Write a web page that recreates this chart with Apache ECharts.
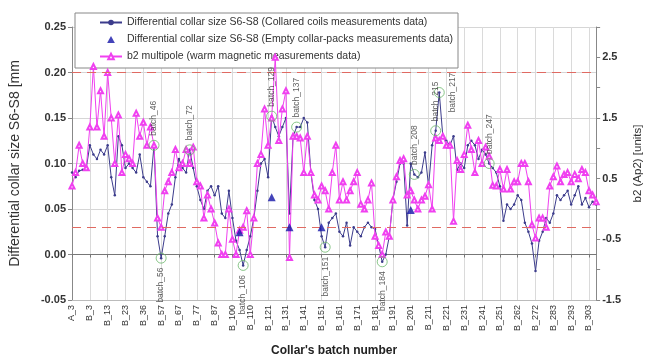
<!DOCTYPE html>
<html><head><meta charset="utf-8">
<script src="https://cdn.jsdelivr.net/npm/echarts@6/dist/echarts.min.js"></script>
<style>html,body{margin:0;padding:0;background:#fff}#c{width:652px;height:362px}</style>
</head><body><div id="c"></div>
<script>
const tickLabels = ['A_3','B_3','B_13','B_23','B_36','B_57','B_67','B_77','B_87','B_100','B_110','B_121','B_131','B_141','B_151','B_161','B_171','B_181','B_191','B_201','B_211','B_221','B_231','B_241','B_251','B_262','B_272','B_283','B_293','B_303'];

// Differential collar size S6-S8, collared coils [mm] (left axis)
const collaredCoils = [
0.09,0.085,0.092,0.093,0.095,0.12,0.11,0.105,0.115,0.11,
0.12,0.085,0.065,0.13,0.12,0.095,0.1,0.095,0.09,0.11,
0.085,0.08,0.075,0.12,0.02,-0.004,0.02,0.045,0.055,0.085,
0.105,0.095,0.09,0.115,0.095,0.075,0.06,0.05,0.07,0.075,
0.065,0.075,0.045,0.04,0.07,0.04,0.015,0.005,-0.012,0.005,
0.02,0.04,0.07,0.1,0.105,0.085,0.152,0.14,0.13,0.14,
0.15,0.045,0.13,0.14,0.14,0.15,0.145,0.09,0.06,0.05,
0.02,0.008,0.035,0.04,0.045,0.025,0.02,0.035,0.01,0.03,
0.025,0.02,0.03,0.035,0.03,0.028,0.01,-0.008,0.0,0.02,
0.06,0.08,0.1,0.1,0.032,0.1,0.088,0.085,0.09,0.112,
0.075,0.12,0.136,0.178,0.13,0.125,0.12,0.13,0.093,0.1,
0.095,0.12,0.125,0.12,0.105,0.115,0.11,0.1,0.095,0.09,
0.075,0.037,0.055,0.05,0.055,0.065,0.06,0.035,0.025,0.012,
-0.018,0.015,0.025,0.04,0.035,0.045,0.065,0.06,0.065,0.07,
0.055,0.065,0.075,0.055,0.062,0.052,0.058,0.055
];

// b2 multipole [units] (right axis)
const b2Multipole = [
0.38,0.6,1.05,0.75,0.68,1.35,2.35,1.35,1.95,1.2,
2.25,1.5,0.75,1.55,0.6,0.9,0.83,0.75,1.58,1.2,
1.43,1.05,1.35,1.05,-0.15,-0.3,0.3,0.45,0.6,0.98,
0.68,0.75,0.98,0.75,1.02,0.45,0.38,-0.15,0.23,0.0,
-0.23,-0.56,-0.75,-0.75,0.0,-0.5,-0.75,-0.35,-0.3,-0.03,
-0.75,-0.15,0.75,0.9,1.65,1.05,1.5,2.5,1.13,1.65,
1.95,-0.8,1.2,1.2,1.17,0.6,1.2,0.6,0.23,0.15,
0.38,0.3,0.0,0.6,1.05,0.15,0.45,0.15,0.3,0.45,
0.6,0.08,0.0,0.15,0.43,-0.45,-0.6,-0.75,-0.38,-0.45,
0.15,0.53,0.8,0.83,0.23,0.3,0.15,0.0,0.15,0.21,
0.4,0.0,1.17,1.13,1.2,1.05,1.05,-0.2,0.8,0.65,
0.9,1.38,0.98,0.6,1.13,0.75,1.02,0.87,0.39,0.38,
0.65,0.33,0.65,0.33,0.45,0.45,0.75,0.75,0.45,-0.26,
-0.48,-0.15,-0.15,-0.3,0.38,0.53,0.71,0.45,0.57,0.6,
0.45,0.57,0.5,0.65,0.6,0.3,0.23,0.12
];

// Empty collar-packs measurements
const emptyPackIdx = [47, 56, 61, 70, 95];
const emptyPackVal = [0.0245, 0.063, 0.030, 0.030, 0.049];

// Tolerance lines (left axis)
const limitLines = [0.197, 0.031];

// Annotated batches: name, point index, label side
const annotNames = ['batch_46','batch_56','batch_72','batch_106','batch_129','batch_137','batch_151','batch_184','batch_208','batch_215','batch_217','batch_247','batch_249'];
const annotIdx   = [23, 25, 33, 48, 56, 63, 71, 87, 96, 102, 103, 117, 119];
const annotSide  = ['top','bottom','top','bottom','top','top','bottom','bottom','top','top','right','top','bottom'];

const categories = collaredCoils.map((_, i) => String(i));
const FONT = 'Arial, "Liberation Sans", sans-serif';

const sideLabel = {
  top:    {position:'top', rotate:90, align:'left', verticalAlign:'middle', distance:4},
  bottom: {position:'bottom', rotate:90, align:'right', verticalAlign:'middle', distance:4},
  right:  {position:'right', rotate:90, align:'center', verticalAlign:'top', distance:3}
};

const annotData = annotNames.map((n, k) => ({
  name: n,
  value: [annotIdx[k], collaredCoils[annotIdx[k]]],
  symbol: n === 'batch_249' ? 'none' : 'circle',
  label: Object.assign({show:true, formatter:n, fontSize:8.5, color:'#333', fontFamily:FONT}, sideLabel[annotSide[k]])
}));

const chart = echarts.init(document.getElementById('c'), null, {renderer:'canvas'});
chart.setOption({
  animation: false,
  backgroundColor: '#fff',
  textStyle: {fontFamily: FONT},
  grid: {left: 72, right: 52, top: 27, bottom: 49},
  legend: {
    orient: 'vertical', left: 75, top: 13,
    backgroundColor: '#fff', borderColor: '#888', borderWidth: 1,
    padding: [4, 5, 6, 24], itemGap: 6, itemWidth: 22, itemHeight: 7,
    textStyle: {fontSize: 10.5, color: '#333', fontFamily: FONT},
    data: [
      {name: 'Differential collar size S6-S8 (Collared coils measurements data)'},
      {name: 'Differential collar size S6-S8 (Empty collar-packs measurements data)', icon: 'path://M5,0L10,9L0,9Z'},
      {name: 'b2 multipole (warm magnetic measurements data)'}
    ]
  },
  xAxis: [{
    type: 'category', data: categories, boundaryGap: false, position: 'bottom',
    name: "Collar's batch number", nameLocation: 'middle', nameGap: 45,
    nameTextStyle: {fontSize: 12, fontWeight: 'bold', color: '#222', fontFamily: FONT},
    axisLine: {onZero: false, lineStyle: {color: '#bbb'}},
    axisTick: {show: false},
    axisLabel: {interval: 4, rotate: 90, fontSize: 9, color: '#333', margin: 5,
      formatter: (v, i) => tickLabels[Math.round(i / 5)] || ''},
    splitLine: {show: true, interval: 4, lineStyle: {color: '#dadada', width: 1}}
  }, {
    type: 'category', data: categories, boundaryGap: false, position: 'bottom',
    axisLine: {onZero: true, lineStyle: {color: '#777'}},
    axisTick: {show: true, interval: 4, length: 3, lineStyle: {color: '#777'}},
    axisLabel: {show: false},
    splitLine: {show: false}
  }],
  yAxis: [{
    type: 'value', min: -0.05, max: 0.25, interval: 0.05,
    name: 'Differential collar size S6-S8 [mm', nameLocation: 'middle', nameGap: 50, nameRotate: 90,
    nameTextStyle: {fontSize: 14, color: '#333', fontFamily: FONT},
    axisLine: {show: true, lineStyle: {color: '#888'}},
    axisTick: {show: true, length: 4, lineStyle: {color: '#888'}},
    axisLabel: {fontSize: 11, fontWeight: 'bold', color: '#333', margin: 6,
      formatter: v => v.toFixed(2)},
    splitLine: {show: true, lineStyle: {color: '#d6d6d6'}}
  }, {
    type: 'value', min: -1.5, max: 3, interval: 0.5, position: 'right',
    name: 'b2 (Ap2) [units]', nameLocation: 'middle', nameGap: 30, nameRotate: 90,
    nameTextStyle: {fontSize: 11.5, color: '#333', fontFamily: FONT},
    axisLine: {show: true, lineStyle: {color: '#888'}},
    axisTick: {show: true, length: 4, lineStyle: {color: '#888'}},
    axisLabel: {fontSize: 11, fontWeight: 'bold', color: '#333', margin: 6,
      formatter: v => (Math.abs(((v + 1.5) % 1)) < 1e-6 ? v.toFixed(1) : '')},
    splitLine: {show: false}
  }],
  series: [{
    name: 'Differential collar size S6-S8 (Collared coils measurements data)',
    type: 'line', xAxisIndex: 0, yAxisIndex: 0, data: collaredCoils,
    symbol: 'circle', symbolSize: 2.5, showAllSymbol: true,
    lineStyle: {color: '#3c3c8c', width: 1}, itemStyle: {color: '#3c3c8c'}, z: 3,
    markLine: {
      silent: true, symbol: 'none', label: {show: false},
      lineStyle: {color: '#e06a62', type: [9, 6], width: 1.2},
      data: limitLines.map(v => ({yAxis: v}))
    }
  }, {
    name: 'Differential collar size S6-S8 (Empty collar-packs measurements data)',
    type: 'scatter', xAxisIndex: 0, yAxisIndex: 0,
    data: emptyPackIdx.map((x, k) => [x, emptyPackVal[k]]),
    symbol: 'triangle', symbolSize: 8, itemStyle: {color: '#1414a8'}, z: 6
  }, {
    name: 'b2 multipole (warm magnetic measurements data)',
    type: 'line', xAxisIndex: 0, yAxisIndex: 1, data: b2Multipole,
    symbol: 'emptyTriangle', symbolSize: 5, showAllSymbol: true,
    lineStyle: {color: '#f040f0', width: 1}, itemStyle: {color: '#f040f0', borderWidth: 1}, z: 4
  }, {
    name: 'annotations', type: 'scatter', xAxisIndex: 0, yAxisIndex: 0,
    data: annotData, symbolSize: 10,
    itemStyle: {color: 'rgba(0,0,0,0)', borderColor: '#6cb86c', borderWidth: 1}, z: 5
  }]
});
</script></body></html>
